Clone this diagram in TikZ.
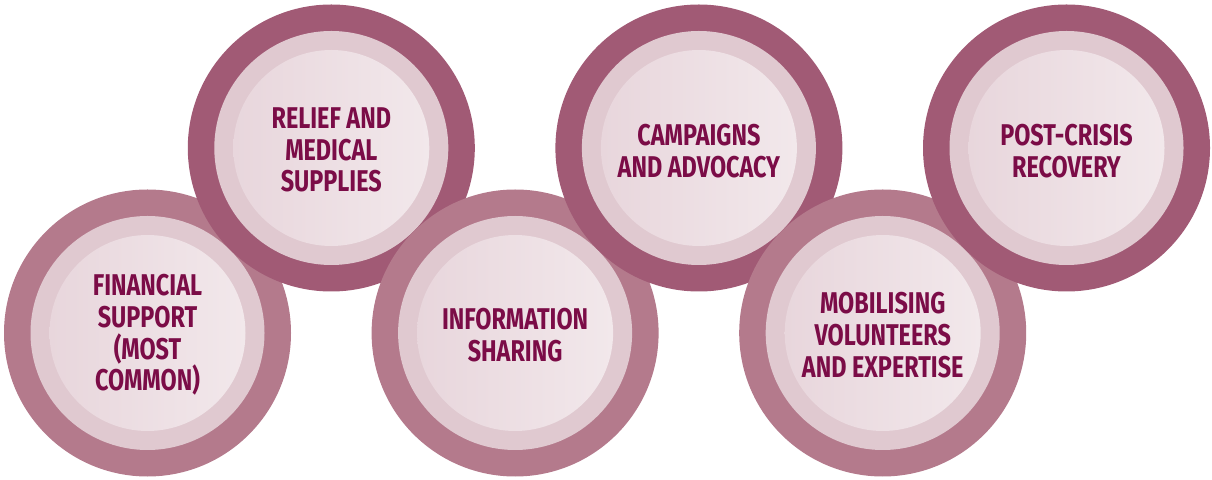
\documentclass[tikz,border=0pt]{standalone}
\usepackage{fontspec}
\setmainfont{Fira Sans}[FakeStretch=0.78]
\definecolor{ringdark}{HTML}{A15A75}
\definecolor{ringlight}{HTML}{B47A8C}
\definecolor{band}{HTML}{E0C9D0}
\definecolor{discL}{HTML}{E8D6DC}
\definecolor{discR}{HTML}{F2E8EB}
\definecolor{txt}{HTML}{7B0C47}
\tikzset{
  outer/.style={circle, inner sep=0pt, minimum size=287pt, fill=#1},
  bandc/.style={circle, inner sep=0pt, minimum size=234pt, fill=band},
  disc/.style={circle, inner sep=0pt, minimum size=196pt, left color=discL, right color=discR},
  label/.style={text=txt, font=\bfseries\fontsize{30}{31.7}\selectfont, align=center, inner sep=0pt}
}
\begin{document}
\begin{tikzpicture}[x=1pt,y=1pt]
\useasboundingbox (0,0) rectangle (1212,479);
% circles, drawn left to right so each overlaps the previous one
\foreach \n/\x/\y/\c in {a/147.5/146/ringlight, b/331.3/331/ringdark, c/515.1/146/ringlight, d/698.9/331/ringdark, e/882.7/146/ringlight, f/1066.5/331/ringdark}{
  \node[outer=\c] (o\n) at (\x,\y) {};
  \node[bandc] (b\n) at (o\n) {};
  \node[disc] (d\n) at (o\n) {};
}
\node[label] (ta) at ([yshift=-2pt]da) {FINANCIAL\\SUPPORT\\(MOST\\COMMON)};
\node[label] (tb) at ([yshift=-2pt]db) {RELIEF AND\\MEDICAL\\SUPPLIES};
\node[label] (tc) at ([yshift=-2pt]dc) {INFORMATION\\SHARING};
\node[label] (td) at ([yshift=-3pt]dd) {CAMPAIGNS\\AND ADVOCACY};
\node[label] (te) at ([yshift=-2pt]de) {MOBILISING\\VOLUNTEERS\\AND EXPERTISE};
\node[label] (tf) at ([yshift=-3pt]df) {POST-CRISIS\\RECOVERY};
\end{tikzpicture}
\end{document}
